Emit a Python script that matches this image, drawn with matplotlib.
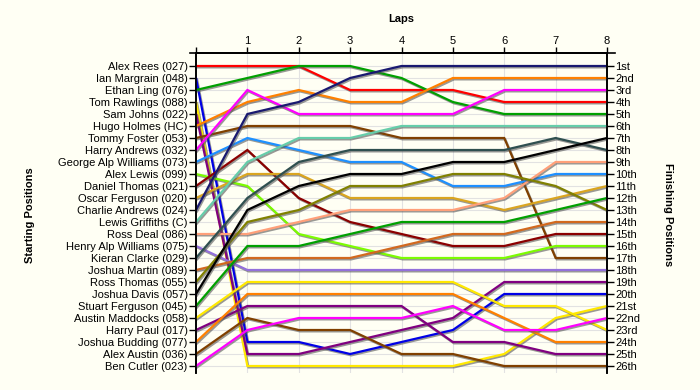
import matplotlib
matplotlib.use("Agg")
import matplotlib.pyplot as plt
import matplotlib.patheffects as pe
from matplotlib.lines import Line2D

drivers = [
    "Alex Rees (027)", "Ian Margrain (048)", "Ethan Ling (076)", "Tom Rawlings (088)",
    "Sam Johns (022)", "Hugo Holmes (HC)", "Tommy Foster (053)", "Harry Andrews (032)",
    "George Alp Williams (073)", "Alex Lewis (099)", "Daniel Thomas (021)",
    "Oscar Ferguson (020)", "Charlie Andrews (024)", "Lewis Griffiths (C)",
    "Ross Deal (086)", "Henry Alp Williams (075)", "Kieran Clarke (029)",
    "Joshua Martin (089)", "Ross Thomas (055)", "Joshua Davis (057)",
    "Stuart Ferguson (045)", "Austin Maddocks (058)", "Harry Paul (017)",
    "Joshua Budding (077)", "Alex Austin (036)", "Ben Cutler (023)",
]

laps = [0, 1, 2, 3, 4, 5, 6, 7, 8]

# position of each driver (in starting order) at the end of each lap, lap 0 = grid
positions = [
    [1, 1, 1, 3, 3, 3, 4, 4, 4],
    [2, 24, 24, 25, 24, 23, 20, 20, 20],
    [3, 2, 1, 1, 2, 4, 5, 5, 5],
    [4, 26, 26, 26, 26, 26, 25, 22, 21],
    [5, 25, 25, 24, 23, 22, 19, 19, 19],
    [6, 4, 3, 4, 4, 2, 2, 2, 2],
    [7, 6, 6, 6, 7, 7, 7, 17, 17],
    [8, 3, 5, 5, 5, 5, 3, 3, 3],
    [9, 7, 8, 9, 9, 11, 11, 10, 10],
    [10, 11, 15, 16, 17, 17, 17, 16, 16],
    [11, 8, 12, 14, 15, 16, 16, 15, 15],
    [12, 10, 10, 12, 12, 12, 13, 12, 11],
    [13, 5, 4, 2, 1, 1, 1, 1, 1],
    [14, 9, 7, 7, 6, 6, 6, 6, 6],
    [15, 15, 14, 13, 13, 13, 12, 9, 9],
    [16, 18, 18, 18, 18, 18, 18, 18, 18],
    [17, 12, 9, 8, 8, 8, 8, 7, 8],
    [18, 17, 17, 17, 16, 15, 15, 14, 14],
    [19, 14, 13, 11, 11, 10, 10, 11, 13],
    [20, 13, 11, 10, 10, 9, 9, 8, 7],
    [21, 16, 16, 15, 14, 14, 14, 13, 12],
    [22, 19, 19, 19, 19, 19, 21, 21, 23],
    [23, 21, 21, 21, 21, 24, 24, 25, 25],
    [24, 20, 20, 20, 20, 20, 22, 24, 24],
    [25, 22, 23, 23, 25, 25, 26, 26, 26],
    [26, 23, 22, 22, 22, 21, 23, 23, 22],
]

finish_labels = ["1st", "2nd", "3rd"] + [f"{n}th" for n in range(4, 21)] + \
    ["21st", "22nd", "23rd", "24th", "25th", "26th"]

colors = [
    "#ff0000", "#0000e6", "#00a000", "#ffe800", "#800080", "#ff8000", "#804000",
    "#ff00ff", "#1e90ff", "#7cfc00", "#8b0000", "#daa520", "#191970", "#66cdaa",
    "#ffa07a", "#9370db", "#2f4f4f", "#d2691e", "#808000", "#000000",
    "#00a000", "#ffe800", "#800080", "#ff8000", "#804000", "#ff00ff",
]

bg = "#fffff4"
plt.rcParams['font.family'] = ['Liberation Sans', 'DejaVu Sans']

fig = plt.figure(figsize=(7, 3.9), dpi=100, facecolor=bg)
ax = fig.add_axes([196 / 700, 17 / 390, 411 / 700, 320 / 390], facecolor=bg)

n = len(drivers)
ax.set_xlim(0, 8)
ax.set_ylim(n + 7 / 12, 1 - 13 / 12)

for y in range(1, n + 1):
    ax.axhline(y, color="#e2e2e2", lw=0.8, zorder=0)
for x in laps[1:-1]:
    ax.axvline(x, color="#e2e2e2", lw=0.8, zorder=0)

shadow = [pe.SimpleLineShadow(offset=(0.8, -1.0), shadow_color="#555555", alpha=0.6),
          pe.Normal()]
for i in range(n):
    ax.plot(laps, positions[i], color=colors[i], lw=1.6, zorder=3,
            solid_joinstyle="miter", path_effects=shadow)

ax.xaxis.tick_top()
ax.set_xticks(laps)
ax.set_xticklabels([""] + [str(l) for l in laps[1:]], fontsize=8)
ax.tick_params(axis="x", length=4, width=1, pad=1)

ax.set_yticks(range(1, n + 1))
ax.set_yticklabels(drivers, fontsize=8)
ax.tick_params(axis="y", length=5, width=1, pad=1)

ax2 = ax.twinx()
ax2.set_ylim(ax.get_ylim())
ax2.set_yticks(range(1, n + 1))
ax2.set_yticklabels(finish_labels, fontsize=8)
ax2.tick_params(axis="y", length=5, width=1, pad=1)

for a in (ax, ax2):
    a.spines["bottom"].set_visible(False)
    for s in ("top", "left", "right"):
        a.spines[s].set_linewidth(1.2)

# top axis line runs a little past both ends, as in the original
top_y = 1 - 53 / 390
fig.add_artist(Line2D([190 / 700, 615 / 700], [top_y, top_y], color="black", lw=1.2))

fig.text(401 / 700, 1 - 19 / 390, "Laps", ha="center", va="center",
         fontsize=8, fontweight="bold")
fig.text(30 / 700, 1 - 215 / 390, "Starting Positions", ha="center", va="center",
         rotation=90, fontsize=8, fontweight="bold")
fig.text(668 / 700, 1 - 215 / 390, "Finishing Positions", ha="center", va="center",
         rotation=-90, fontsize=8, fontweight="bold")

fig.savefig("out.png", dpi=100, facecolor=bg)
